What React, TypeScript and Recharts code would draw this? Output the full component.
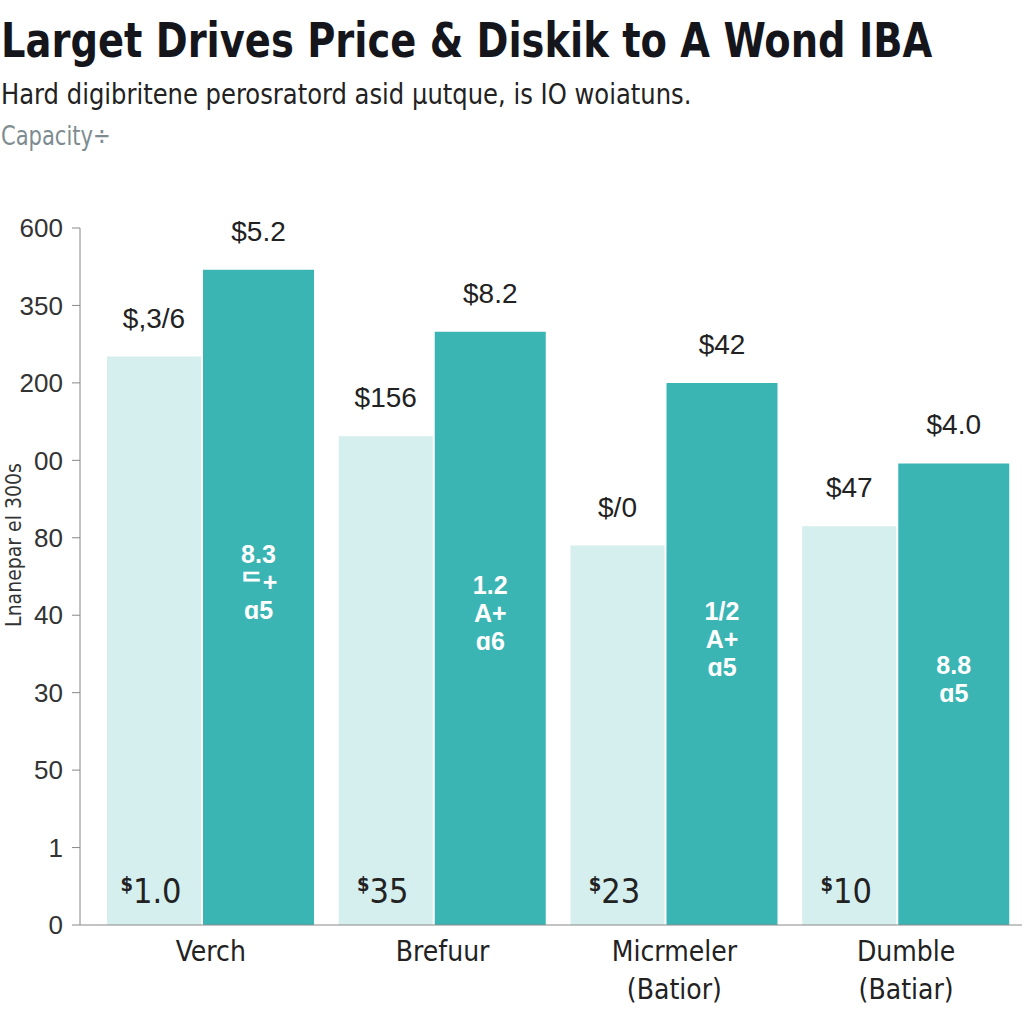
import { BarChart, Bar, XAxis, YAxis, LabelList } from 'recharts';

const categories = ['Verch', 'Brefuur', 'Micrmeler\n(Batior)', 'Dumble\n(Batiar)'];
// y axis is an evenly spaced index scale, the printed labels are not monotonic
const yTickLabels = ['0', '1', '50', '30', '40', '80', '00', '200', '350', '600'];
const lightValues = [7.34, 6.31, 4.9, 5.15];
const darkValues = [8.46, 7.66, 7.0, 5.96];
const lightTopLabels = ['$,3/6', '$156', '$/0', '$47'];
const darkTopLabels = ['$5.2', '$8.2', '$42', '$4.0'];
const lightBaseLabels = ['1.0', '35', '23', '10'];
const darkInnerLabels = [['8.3', 'ᄃ+', 'ɑ5'], ['1.2', 'A+', 'ɑ6'], ['1/2', 'A+', 'ɑ5'], ['8.8', 'ɑ5']];

const data = categories.map((name, i) => ({
  name,
  light: lightValues[i],
  dark: darkValues[i],
  lightTop: lightTopLabels[i],
  darkTop: darkTopLabels[i],
  lightBase: lightBaseLabels[i],
  darkInner: darkInnerLabels[i].join('|'),
}));

const LIGHT = '#d5eeee';
const DARK = '#3bb5b4';
const NARROW = '"DejaVu Sans Condensed", "Liberation Sans", sans-serif';
const SANS = '"Liberation Sans", Arial, sans-serif';

const TopLabel = (props: any) => {
  const { x, y, width, value } = props;
  return (
    <text x={x + width / 2} y={y - 29} textAnchor="middle" fontSize={28} fill="#222" fontFamily={SANS}>
      {value}
    </text>
  );
};

const BaseLabel = (props: any) => {
  const { x, y, width, height, value } = props;
  return (
    <text x={x + width / 2 - 3} y={y + height - 22} textAnchor="middle" fill="#222" fontFamily={NARROW}>
      <tspan fontSize={20} fontWeight={700} dy={-12}>$</tspan>
      <tspan fontSize={34} dy={12}>{value}</tspan>
    </text>
  );
};

const InnerLabel = (props: any) => {
  const { x, y, width, height, value } = props;
  const lines = String(value).split('|');
  const cy = y + height / 2 - 15;
  const start = cy - ((lines.length - 1) * 28) / 2;
  return (
    <text textAnchor="middle" fill="#fff" fontSize={25} fontWeight={700} fontFamily={SANS}>
      {lines.map((l, i) => (
        <tspan key={i} x={x + width / 2} y={start + i * 28 + 9}>{l}</tspan>
      ))}
    </text>
  );
};

const CategoryTick = (props: any) => {
  const { x, y, payload } = props;
  const lines = String(payload.value).split('\n');
  return (
    <text textAnchor="middle" fill="#222" fontSize={28} fontFamily={NARROW}>
      {lines.map((l, i) => (
        <tspan key={i} x={x} y={y + 28 + i * 38}>{l}</tspan>
      ))}
    </text>
  );
};

export default function App() {
  return (
    <div style={{ position: 'absolute', left: 0, top: 0, width: 1024, height: 1024, background: '#fff', overflow: 'hidden' }}>
      <div style={{ position: 'absolute', left: 1, top: 12, fontFamily: NARROW, fontWeight: 700, fontSize: 48, color: '#15151c', whiteSpace: 'nowrap', transform: 'scaleX(0.89)', transformOrigin: 'left' }}>
        Larget Drives Price &amp; Diskik to A Wond IBA
      </div>
      <div style={{ position: 'absolute', left: 1, top: 77, fontFamily: NARROW, fontSize: 29, color: '#222', whiteSpace: 'nowrap', transform: 'scaleX(0.93)', transformOrigin: 'left' }}>
        Hard digibritene perosratord asid μutque, is IO woiatuns.
      </div>
      <div style={{ position: 'absolute', left: 1, top: 121, fontFamily: NARROW, fontSize: 26, color: '#7d8c90', whiteSpace: 'nowrap', transform: 'scaleX(0.9)', transformOrigin: 'left' }}>
        Capacity÷
      </div>
      <div style={{ position: 'absolute', left: 0, top: 0 }}>
        <BarChart width={1024} height={1024} data={data} margin={{ top: 228, right: 2, bottom: 0, left: 0 }} barGap={2}>
          <XAxis
            dataKey="name"
            height={99}
            padding={{ left: 15, right: 0 }}
            stroke="#888"
            tickLine={false}
            interval={0}
            tick={<CategoryTick />}
          />
          <XAxis
            xAxisId="bounds"
            type="number"
            domain={[0, 4]}
            ticks={[1, 2, 3, 4]}
            padding={{ left: 15, right: 0 }}
            axisLine={false}
            tickSize={5}
            stroke="#666"
            tickFormatter={() => ''}
            height={0}
            orientation="bottom"
          />
          <YAxis
            type="number"
            domain={[0, 9]}
            ticks={yTickLabels.map((_, i) => i)}
            tickFormatter={(v: number) => yTickLabels[v]}
            width={80}
            stroke="#888"
            tickSize={8}
            tickMargin={9}
            tick={{ fontSize: 26, fill: '#333', fontFamily: SANS }}
          />
          <Bar dataKey="light" fill={LIGHT} barSize={94} isAnimationActive={false}>
            <LabelList dataKey="lightTop" content={<TopLabel />} />
            <LabelList dataKey="lightBase" content={<BaseLabel />} />
          </Bar>
          <Bar dataKey="dark" fill={DARK} barSize={111} isAnimationActive={false}>
            <LabelList dataKey="darkTop" content={<TopLabel />} />
            <LabelList dataKey="darkInner" content={<InnerLabel />} />
          </Bar>
        </BarChart>
      </div>
      <svg width={40} height={1024} style={{ position: 'absolute', left: 0, top: 0 }}>
        <text
          x={21}
          y={545}
          transform="rotate(-90 21 545)"
          textAnchor="middle"
          fontSize={21}
          fill="#333"
          fontFamily={NARROW}
        >
          Lnanepar el 300s
        </text>
      </svg>
    </div>
  );
}
